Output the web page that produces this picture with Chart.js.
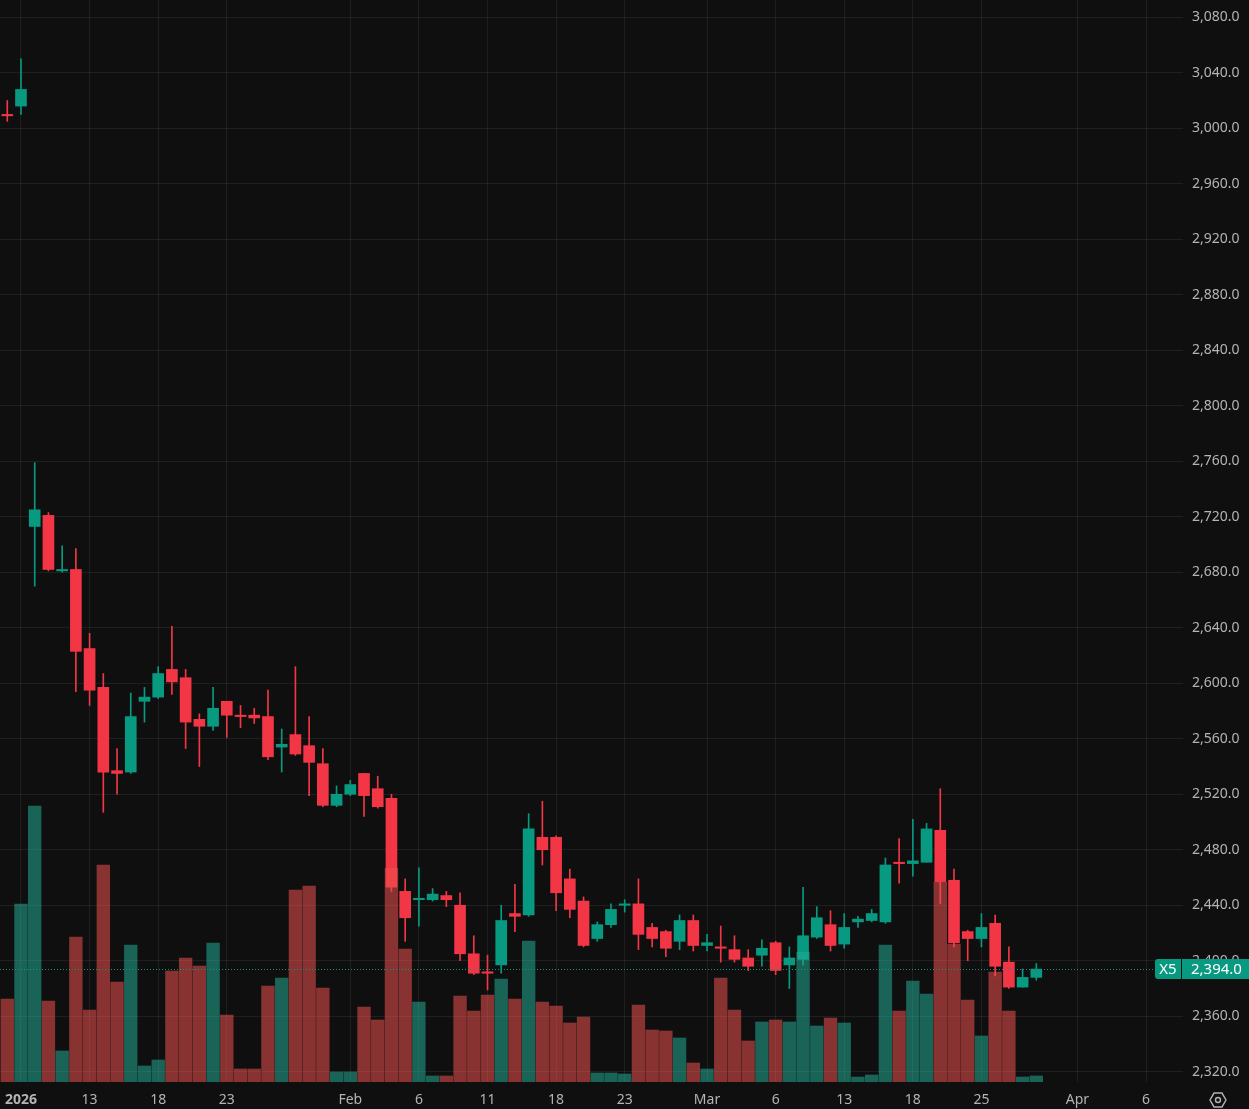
<!DOCTYPE html>
<html>
<head>
<meta charset="utf-8">
<title>X5 — daily</title>
<script src="https://cdn.jsdelivr.net/npm/chart.js@4.4.1/dist/chart.umd.min.js"></script>
<style>
  html, body { margin: 0; padding: 0; background: #0f0f0f; }
  #wrap { width: 1249px; height: 1109px; position: relative; }
</style>
</head>
<body>
<div id="wrap"><canvas id="priceChart"></canvas></div>
<script>
// daily candles, one slot per trading day (index 0 = last day of 2025)
const opens  = [3010, 3016, 2713, 2721, 2681, 2682, 2625, 2597, 2537, 2536, 2587, 2590, 2610, 2604, 2574, 2569, 2587, 2577, 2577, 2576,
                2554, 2563, 2555, 2542, 2512, 2520, 2535, 2524, 2517, 2450, 2444, 2444, 2447, 2440, 2405, 2392, 2397, 2434, 2433, 2489,
                2489, 2459, 2443, 2416, 2426, 2440, 2441, 2424, 2421, 2414, 2429, 2411, 2410, 2408, 2402, 2404, 2413, 2397, 2401, 2417,
                2426, 2412, 2428, 2429, 2428, 2471, 2470, 2471, 2494, 2458, 2421, 2416, 2427, 2399, 2381, 2388];
const highs  = [3020, 3050, 2759, 2723, 2699, 2697, 2636, 2607, 2553, 2593, 2597, 2612, 2641, 2610, 2578, 2597, 2587, 2584, 2582, 2595,
                2567, 2612, 2576, 2553, 2526, 2530, 2535, 2533, 2520, 2459, 2467, 2452, 2450, 2449, 2418, 2404, 2440, 2455, 2506, 2515,
                2490, 2466, 2446, 2428, 2441, 2444, 2459, 2427, 2422, 2433, 2433, 2419, 2425, 2418, 2408, 2415, 2414, 2410, 2453, 2439,
                2436, 2434, 2432, 2437, 2474, 2488, 2502, 2499, 2524, 2466, 2422, 2434, 2433, 2410, 2394, 2398];
const lows   = [3005, 3010, 2670, 2681, 2680, 2594, 2584, 2507, 2520, 2535, 2572, 2589, 2592, 2553, 2540, 2566, 2561, 2568, 2571, 2545,
                2536, 2548, 2519, 2511, 2511, 2519, 2504, 2510, 2450, 2414, 2425, 2443, 2439, 2400, 2390, 2379, 2391, 2421, 2432, 2469,
                2436, 2431, 2410, 2414, 2424, 2435, 2408, 2410, 2403, 2408, 2407, 2407, 2399, 2399, 2393, 2396, 2390, 2380, 2397, 2416,
                2407, 2409, 2424, 2428, 2427, 2456, 2461, 2471, 2441, 2410, 2400, 2410, 2389, 2380, 2381, 2386];
const closes = [3009, 3028, 2725, 2682, 2682, 2623, 2595, 2536, 2535, 2576, 2590, 2607, 2601, 2572, 2569, 2582, 2577, 2576, 2575, 2547,
                2556, 2549, 2543, 2512, 2520, 2527, 2519, 2511, 2453, 2431, 2445, 2448, 2444, 2405, 2391, 2391, 2429, 2432, 2495, 2480,
                2449, 2437, 2411, 2426, 2437, 2441, 2419, 2416, 2409, 2429, 2411, 2413, 2409, 2401, 2396, 2409, 2393, 2402, 2418, 2431,
                2411, 2424, 2430, 2434, 2469, 2470, 2472, 2495, 2457, 2413, 2416, 2424, 2396, 2381, 2388, 2394];
// volume, thousands of shares (read relative to the tallest bar)
const volume = [83, 178, 276, 81, 31, 145, 72, 217, 100, 137, 16, 22, 111, 124, 116, 139, 67, 13, 13, 96,
                104, 192, 196, 94, 10, 10, 75, 62, 214, 133, 80, 6, 6, 86, 71, 87, 103, 83, 141, 80,
                76, 59, 65, 9, 9, 8, 77, 52, 51, 44, 19, 13, 104, 72, 41, 60, 62, 60, 130, 56,
                64, 59, 5, 7, 137, 71, 101, 88, 200, 138, 82, 46, 110, 71, 5, 6];

// x axis labels, placed on slot indexes
const tickPos  = [1, 6, 11, 16, 25, 30, 35, 40, 45, 51, 56, 61, 66, 71, 78, 83];
const tickText = ['2026', '13', '18', '23', 'Feb', '6', '11', '18', '23', 'Mar', '6', '13', '18', '25', 'Apr', '6'];
const priceTicks = [2320, 2360, 2400, 2440, 2480, 2520, 2560, 2600, 2640, 2680, 2720, 2760,
                    2800, 2840, 2880, 2920, 2960, 3000, 3040, 3080];

const symbol = 'X5';
const lastPrice = closes[closes.length - 1];

const UP = '#089981';
const DOWN = '#f23645';
const UP_VOL = 'rgba(34, 171, 148, 0.55)';
const DOWN_VOL = 'rgba(239, 80, 80, 0.55)';
const GRID = 'rgba(255, 255, 255, 0.07)';
const TEXT = '#b4b4b4';
const FONT = "'Noto Sans', 'DejaVu Sans', sans-serif";

const idx = opens.map((_, i) => i);
const candleColors = idx.map(i => closes[i] >= opens[i] ? UP : DOWN);
const volColors = idx.map(i => closes[i] >= opens[i] ? UP_VOL : DOWN_VOL);

function fmtPrice(v) {
    return v.toLocaleString('en-US', { minimumFractionDigits: 1, maximumFractionDigits: 1 });
}

// last price line, badge and the little settings icon
const overlay = {
    id: 'overlay',
    afterDatasetsDraw(chart) {
        const { ctx, chartArea } = chart;
        const y = Math.round(chart.scales.y.getPixelForValue(lastPrice)) + 0.5;
        ctx.save();
        ctx.strokeStyle = UP;
        ctx.lineWidth = 1;
        ctx.setLineDash([1, 2]);
        ctx.beginPath();
        ctx.moveTo(chartArea.left, y);
        ctx.lineTo(chartArea.right, y);
        ctx.stroke();
        ctx.restore();
    },
    afterDraw(chart) {
        const { ctx, chartArea, width } = chart;
        const y = Math.round(chart.scales.y.getPixelForValue(lastPrice));
        const top = y - 10, h = 20;
        ctx.save();
        ctx.fillStyle = UP;
        ctx.beginPath();
        ctx.roundRect(chartArea.right - 28, top, 26, h, [3, 0, 0, 3]);
        ctx.fill();
        ctx.fillRect(chartArea.right - 1, top, width - chartArea.right + 1, h);
        ctx.fillStyle = '#ffffff';
        ctx.font = '15px ' + FONT;
        ctx.textAlign = 'center';
        ctx.textBaseline = 'middle';
        ctx.fillText(symbol, chartArea.right - 15, y + 1);
        ctx.textAlign = 'left';
        ctx.fillText(fmtPrice(lastPrice), chartArea.right + 8, y + 1);

        // settings hexagon
        const cx = 1218, cy = 1100, r = 8;
        ctx.strokeStyle = TEXT;
        ctx.lineWidth = 1.4;
        ctx.beginPath();
        for (let k = 0; k < 6; k++) {
            const a = Math.PI / 3 * k;
            const px = cx + r * Math.cos(a), py = cy + r * Math.sin(a);
            if (k === 0) ctx.moveTo(px, py); else ctx.lineTo(px, py);
        }
        ctx.closePath();
        ctx.stroke();
        ctx.beginPath();
        ctx.arc(cx, cy, 2.5, 0, Math.PI * 2);
        ctx.stroke();
        ctx.restore();
    }
};

const ctx = document.getElementById('priceChart').getContext('2d');
const priceChart = new Chart(ctx, {
    type: 'bar',
    data: {
        datasets: [
            {
                label: 'Volume',
                yAxisID: 'vol',
                order: 0,
                grouped: false,
                data: idx.map(i => ({ x: i, y: volume[i] })),
                backgroundColor: volColors,
                barThickness: 12.7
            },
            {
                label: 'Body',
                yAxisID: 'y',
                order: 1,
                grouped: false,
                data: idx.map(i => ({ x: i, y: [opens[i], closes[i]] })),
                backgroundColor: candleColors,
                barThickness: 11
            },
            {
                label: 'Wick',
                yAxisID: 'y',
                order: 2,
                grouped: false,
                data: idx.map(i => ({ x: i, y: [lows[i], highs[i]] })),
                backgroundColor: candleColors,
                barThickness: 1
            }
        ]
    },
    options: {
        responsive: true,
        maintainAspectRatio: false,
        animation: false,
        layout: { padding: 0 },
        plugins: {
            legend: { display: false },
            tooltip: { enabled: false }
        },
        scales: {
            x: {
                type: 'linear',
                offset: false,
                min: -0.53,
                max: 85.69,
                grid: { color: GRID, drawTicks: false, offset: false },
                border: { display: false },
                afterBuildTicks: axis => { axis.ticks = tickPos.map(v => ({ value: v })); },
                afterFit: axis => { axis.height = 27; axis.paddingLeft = 0; axis.paddingRight = 0; },
                ticks: {
                    autoSkip: false,
                    maxRotation: 0,
                    padding: 10,
                    color: TEXT,
                    font: c => ({ family: FONT, size: 14, weight: (c.tick && c.tick.value === 1) ? 'bold' : 'normal' }),
                    callback: v => tickText[tickPos.indexOf(v)]
                }
            },
            y: {
                position: 'right',
                min: 2312.6,
                max: 3092.47,
                grid: { color: GRID, drawTicks: false },
                border: { display: false },
                afterBuildTicks: axis => { axis.ticks = priceTicks.map(v => ({ value: v })); },
                afterFit: axis => { axis.width = 66; axis.paddingTop = 0; axis.paddingBottom = 0; },
                ticks: {
                    padding: 9,
                    color: TEXT,
                    font: { family: FONT, size: 14 },
                    callback: v => fmtPrice(v)
                }
            },
            vol: {
                display: false,
                min: 0,
                max: Math.max(...volume) * 3.92
            }
        }
    },
    plugins: [overlay]
});
</script>
</body>
</html>
